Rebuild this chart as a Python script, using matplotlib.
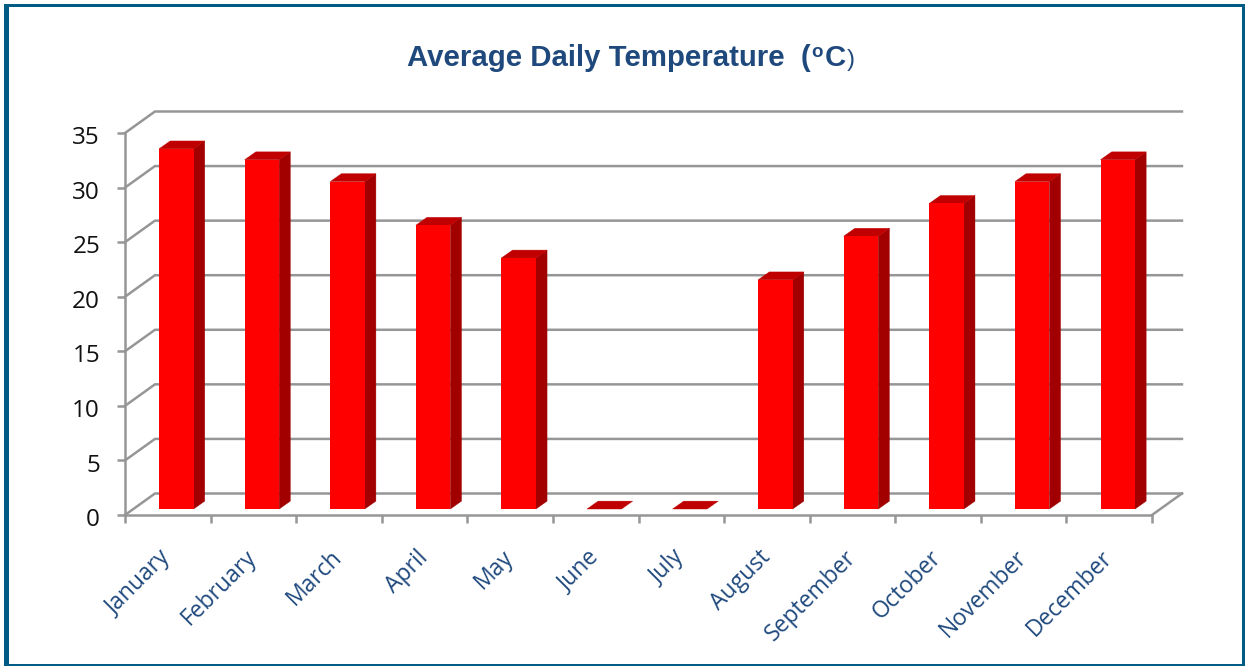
import matplotlib
matplotlib.use("Agg")
import matplotlib.pyplot as plt
from matplotlib.patches import Polygon, Rectangle
from matplotlib.transforms import ScaledTranslation

months = ["January", "February", "March", "April", "May", "June", "July",
          "August", "September", "October", "November", "December"]
temps = [33, 32, 30, 26, 23, 0, 0, 21, 25, 28, 30, 32]
y_ticks = [0, 5, 10, 15, 20, 25, 30, 35]

W, H = 1245, 666
grey = "#969696"
blue = "#1F497D"
border = "#005B85"

fig = plt.figure(figsize=(W / 100, H / 100), dpi=100)
fig.patch.set_facecolor("white")

# front plane of the fake 3d box, pixels
left, right, bottom, top = 125, 1152, 515, 133
ax = fig.add_axes([left / W, 1 - bottom / H, (right - left) / W, (bottom - top) / H])
ax.set_xlim(0, 12)
ax.set_ylim(0, 35)
ax.patch.set_visible(False)

# depth of the box and of the bars, in data units
wall_dx, wall_dy = 0.35, 1.97
bar_dx, bar_dy = 0.13, 0.72
base = 0.55
bar_w = 0.403
line_w = 1.8

# back wall lines
for v in y_ticks:
    ax.plot([0, wall_dx, 12 + wall_dx], [v, v + wall_dy, v + wall_dy],
            color=grey, lw=line_w, clip_on=False, zorder=1, solid_joinstyle="miter")
ax.plot([12, 12 + wall_dx], [0, wall_dy], color=grey, lw=line_w, clip_on=False, zorder=1)

# bars: side, top, then the front through ax.bar
centers = [i + 0.6 for i in range(len(temps))]
for c, t in zip(centers, temps):
    x0 = c - bar_w / 2
    x1 = c + bar_w / 2
    y1 = base + t
    if t > 0:
        ax.add_patch(Polygon([(x1, base), (x1 + bar_dx, base + bar_dy),
                              (x1 + bar_dx, y1 + bar_dy), (x1, y1)],
                             fc="#A20000", ec="#A20000", lw=0.3, clip_on=False, zorder=3))
    ax.add_patch(Polygon([(x0, y1), (x1, y1), (x1 + bar_dx, y1 + bar_dy), (x0 + bar_dx, y1 + bar_dy)],
                         fc="#C00000", ec="#C00000", lw=0.3, clip_on=False, zorder=3))
ax.bar(centers, temps, width=bar_w, bottom=base, color="#FF0000", zorder=4)

for s in ["top", "right"]:
    ax.spines[s].set_visible(False)
for s in ["left", "bottom"]:
    ax.spines[s].set_color(grey)
    ax.spines[s].set_linewidth(line_w)

ax.set_yticks(y_ticks)
ax.set_yticklabels([str(v) for v in y_ticks], fontsize=17.5, family="Open Sans", color="#111111")
ax.tick_params(axis="y", length=6, width=line_w, color=grey, pad=12)
# the numbers sit a little under their ticks
nudge = ScaledTranslation(0, -1.5 / 72, fig.dpi_scale_trans)
for lab in ax.get_yticklabels():
    lab.set_transform(lab.get_transform() + nudge)

ax.set_xticks(range(13))
ax.set_xticklabels([])
ax.tick_params(axis="x", length=6, width=line_w, color=grey)
ax.set_xticks([i + 0.4 for i in range(12)], minor=True)
ax.set_xticklabels(months, minor=True, rotation=45, ha="right", rotation_mode="anchor",
                   fontsize=16.5, family="Open Sans", color=blue)
ax.tick_params(axis="x", which="minor", length=0, pad=22)

# title is built from pieces so the degree sign can sit raised
title_font = dict(family="Liberation Sans", color=blue, transform=None)
r = fig.canvas.get_renderer()
x = 407
y = H - 66
for txt, size, weight, dy, gap in [("Average Daily Temperature  (", 21.2, "bold", 0, 1),
                                   ("o", 13.5, "bold", 9, 1),
                                   ("C", 21.2, "bold", 0, 1),
                                   (")", 17, "normal", 0, 0)]:
    t = fig.text(x, y + dy, txt, fontsize=size, fontweight=weight, **title_font)
    x = t.get_window_extent(r).x1 + gap

# frame round the whole picture, the sides are not equally thick
for x0, y0, w, h in [(4, 0, 5, H - 4), (4, H - 7, W - 4, 3), (W - 3, 0, 3, H - 4), (4, 0, W - 4, 2)]:
    fig.add_artist(Rectangle((x0 / W, y0 / H), w / W, h / H, transform=fig.transFigure,
                             fc=border, ec="none"))

fig.savefig("out.png", dpi=100)
